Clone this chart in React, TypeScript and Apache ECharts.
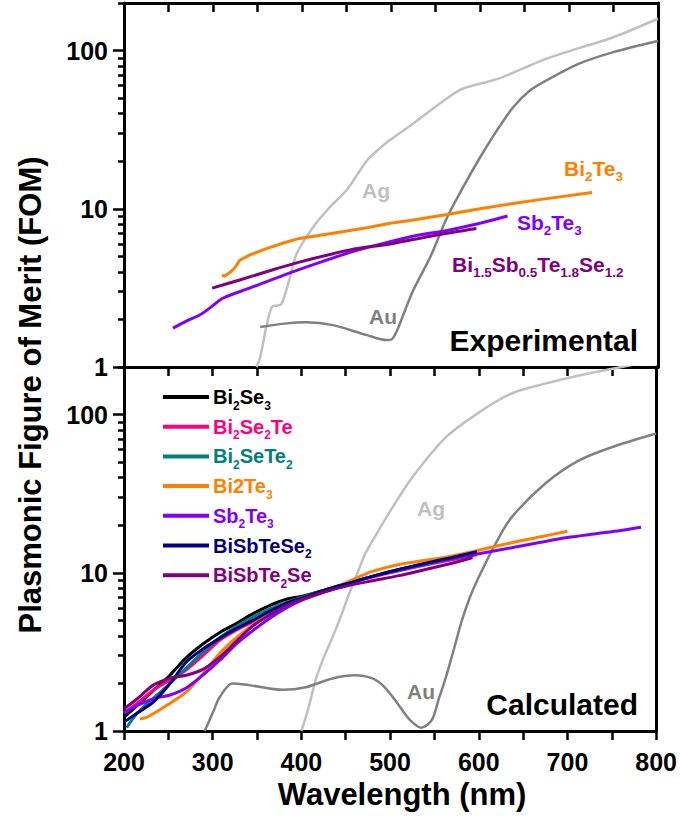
import React, { useEffect, useRef } from "react";
import * as echarts from "echarts";

// ---------- Experimental panel data (wavelength nm, FOM) ----------
const expAgX = [349, 353, 360, 366, 372, 377, 386, 394, 412, 431, 450, 473, 487, 498, 525, 563, 581, 619, 648, 675, 712, 749, 800];
const expAgY = [1.0, 1.15, 1.8, 2.39, 2.45, 2.5, 3.6, 5.2, 7.6, 10.2, 13.1, 20.2, 24, 27, 34.6, 50, 57.6, 66, 77, 89, 104, 121, 159];

const expAuX = [353, 380, 405, 435, 473, 495, 501, 507, 516, 525, 544, 563, 581, 600, 619, 637, 656, 675, 712, 749, 800];
const expAuY = [1.79, 1.88, 1.92, 1.84, 1.59, 1.48, 1.5, 1.71, 2.3, 3.06, 4.94, 8.8, 13.7, 21.1, 31.3, 43.7, 56, 65, 83, 97.5, 115];

const expBi2Te3X = [310, 313, 320, 325, 330, 341, 360, 380, 397, 435, 473, 499, 525, 563, 600, 637, 675, 726];
const expBi2Te3Y = [3.8, 3.75, 4.0, 4.27, 4.73, 5.1, 5.6, 6.1, 6.5, 7.0, 7.6, 8.1, 8.5, 9.2, 10.0, 10.8, 11.6, 12.7];

const expSb2Te3X = [255, 270, 285, 298, 311, 341, 379, 416, 454, 499, 530, 563, 600, 631];
const expSb2Te3Y = [1.76, 1.95, 2.13, 2.4, 2.72, 3.15, 3.8, 4.5, 5.3, 6.2, 6.8, 7.3, 8.1, 9.0];

const expBSTSX = [299, 330, 360, 397, 454, 499, 550, 596];
const expBSTSY = [3.15, 3.55, 4.0, 4.6, 5.5, 6.0, 6.8, 7.5];

// ---------- Calculated panel data ----------
const calcAgX = [400, 408, 416, 425, 435, 445, 454, 463, 472, 487, 498, 525, 563, 600, 637, 675, 712, 761, 790];
const calcAgY = [1.0, 1.4, 2.1, 2.9, 3.9, 5.4, 7.4, 9.9, 13.2, 18.5, 23.5, 40, 72, 103, 136, 157, 176, 200, 215];

const calcAuX = [291, 300, 308, 322, 341, 379, 405, 435, 461, 475, 487, 498, 510, 522, 535, 547, 555, 563, 572, 581, 590, 600, 619, 637, 675, 712, 749, 800];
const calcAuY = [1.0, 1.3, 1.64, 2.0, 1.95, 1.82, 1.89, 2.15, 2.25, 2.2, 2.05, 1.78, 1.45, 1.18, 1.05, 1.17, 1.6, 2.19, 3.3, 5.0, 7.0, 9.4, 15.3, 22.4, 36.7, 51, 62, 76];

const bundleX = [200, 215, 233, 252, 270, 289, 308, 327, 345, 364, 383, 400, 427, 453, 480, 510, 540, 570, 598];
const calcBi2Se3Y = [1.22, 1.45, 1.8, 2.26, 2.9, 3.55, 4.2, 4.8, 5.5, 6.2, 6.8, 7.1, 7.8, 8.6, 9.5, 10.5, 11.4, 12.4, 13.4];
const calcBi2Se2TeY = [1.3, 1.5, 1.81, 2.1, 2.43, 3.0, 3.75, 4.35, 4.9, 5.6, 6.3, 6.9, 7.8, 8.6, 9.4, 10.3, 11.2, 12.1, 13.0];
const calcBi2SeTe2X = [203, 215, 233, 252, 270, 289, 308, 327, 345, 364, 383, 400, 427, 453, 480, 510, 540, 570, 590];
const calcBi2SeTe2Y = [1.05, 1.3, 1.61, 2.0, 2.5, 3.15, 3.9, 4.6, 5.25, 5.9, 6.5, 7.0, 7.8, 8.6, 9.5, 10.4, 11.3, 12.3, 13.2];
const calcBiSbTeSe2Y = [1.14, 1.3, 1.52, 2.0, 2.72, 3.3, 3.86, 4.45, 5.0, 5.7, 6.4, 6.9, 7.8, 8.6, 9.5, 10.5, 11.5, 12.5, 13.6];
const calcBiSbTe2SeX = [200, 215, 233, 252, 270, 289, 308, 327, 345, 364, 383, 400, 427, 453, 480, 510, 540, 570, 593];
const calcBiSbTe2SeY = [1.38, 1.6, 1.95, 2.16, 2.25, 2.45, 2.93, 3.7, 4.6, 5.4, 6.2, 6.8, 7.6, 8.3, 8.9, 9.6, 10.5, 11.5, 12.5];
const calcBi2Te3X = [218, 227, 252, 270, 289, 308, 327, 345, 364, 383, 400, 427, 453, 480, 510, 540, 570, 600, 637, 670, 700];
const calcBi2Te3Y = [1.19, 1.23, 1.5, 1.76, 2.3, 3.1, 3.9, 4.67, 5.5, 6.1, 6.7, 7.6, 8.8, 10.2, 11.3, 12.0, 12.8, 13.9, 15.5, 16.9, 18.3];
const calcSb2Te3X = [200, 215, 233, 252, 270, 289, 308, 327, 345, 364, 383, 400, 427, 453, 480, 510, 540, 570, 600, 637, 670, 700, 734, 760, 783];
const calcSb2Te3Y = [1.3, 1.45, 1.6, 1.69, 1.87, 2.26, 2.8, 3.57, 4.3, 5.15, 6.0, 6.7, 7.6, 8.5, 9.5, 10.4, 11.4, 12.3, 13.2, 14.4, 15.6, 16.7, 17.7, 18.5, 19.4];

// axis ticks
const majorTicks = [1, 10, 100];
const minorTicks = [2, 3, 4, 5, 6, 7, 8, 9, 20, 30, 40, 50, 60, 70, 80, 90, 200];

const C = {
  ag: "#c0c0c0",
  au: "#808080",
  bi2te3: "#ff8000",
  sb2te3: "#8000ff",
  bsts: "#800080",
  bi2se3: "#000000",
  bi2se2te: "#ff0080",
  bi2sete2: "#008080",
  bisbtese2: "#000080",
  bisbte2se: "#800080",
};

const SANS = '"Liberation Sans", Arial, sans-serif';

const zip = (xs: number[], ys: number[]) => xs.map((x, i) => [x, ys[i]]);

function lineSeries(name: string, xs: number[], ys: number[], color: string, grid: number, width = 3, smooth: number | boolean = 0.3) {
  return {
    name,
    type: "line",
    xAxisIndex: grid === 0 ? 0 : 2,
    yAxisIndex: grid === 0 ? 0 : 3,
    data: zip(xs, ys),
    showSymbol: false,
    smooth,
    lineStyle: { color, width },
    itemStyle: { color },
    z: 3,
    clip: true,
  };
}

function richLabel(parts: string, color: string, size = 20, sub = 12) {
  return {
    text: parts,
    rich: {
      m: { fontSize: size, fontWeight: "bold", fontFamily: SANS, fill: color, lineHeight: 24 },
      s: { fontSize: sub, fontWeight: "bold", fontFamily: SANS, fill: color, lineHeight: 14, padding: [17, 0, 0, 0] },
    },
  };
}

const legendItems = [
  { text: "{m|Bi}{s|2}{m|Se}{s|3}", color: C.bi2se3 },
  { text: "{m|Bi}{s|2}{m|Se}{s|2}{m|Te}", color: C.bi2se2te },
  { text: "{m|Bi}{s|2}{m|SeTe}{s|2}", color: C.bi2sete2 },
  { text: "{m|Bi2Te}{s|3}", color: C.bi2te3 },
  { text: "{m|Sb}{s|2}{m|Te}{s|3}", color: C.sb2te3 },
  { text: "{m|BiSbTeSe}{s|2}", color: C.bisbtese2 },
  { text: "{m|BiSbTe}{s|2}{m|Se}", color: C.bisbte2se },
];

export default function App() {
  const ref = useRef<HTMLDivElement>(null);
  useEffect(() => {
    if (!ref.current) return;
    const chart = echarts.init(ref.current, undefined, { renderer: "svg" });
    const axisLine = { show: true, onZero: false, lineStyle: { color: "#000", width: 3 } };
    const tickStyle = { color: "#000", width: 2.5 };
    const xBase = { type: "value", min: 200, max: 800, interval: 50, splitLine: { show: false } };
    const yBase = { type: "log", logBase: 10, min: 1, max: 200, splitLine: { show: false } };

    const yAxesFor = (g: number) => [
      {
        ...yBase,
        gridIndex: g,
        position: "left",
        axisLine,
        axisTick: { show: true, inside: false, length: 11, lineStyle: tickStyle, customValues: majorTicks },
        axisLabel: {
          show: true,
          customValues: majorTicks,
          margin: 16,
          fontSize: 25,
          fontWeight: "bold",
          fontFamily: SANS,
          color: "#000",
        },
      },
      {
        ...yBase,
        gridIndex: g,
        position: "left",
        axisLine: { show: false },
        axisTick: { show: true, inside: false, length: 6, lineStyle: tickStyle, customValues: minorTicks },
        axisLabel: { show: false },
      },
      {
        ...yBase,
        gridIndex: g,
        position: "right",
        axisLine,
        axisTick: { show: false },
        axisLabel: { show: false },
      },
    ];

    const legendGraphics: any[] = [];
    legendItems.forEach((it, i) => {
      const y = 397 + i * 29.7;
      legendGraphics.push({
        type: "line",
        shape: { x1: 163, y1: y, x2: 209, y2: y },
        style: { stroke: it.color, lineWidth: 4 },
        z: 10,
      });
      legendGraphics.push({
        type: "text",
        x: 213,
        y,
        style: { ...richLabel(it.text, it.color, 20, 12), align: "left", verticalAlign: "middle" },
        z: 10,
      });
    });

    const annot = (text: string, color: string, x: number, y: number, align = "left", size = 21, sub = 13.5) => ({
      type: "text",
      x,
      y,
      style: { ...richLabel(text, color, size, sub), align, verticalAlign: "middle" },
      z: 10,
    });

    chart.setOption({
      animation: false,
      backgroundColor: "#fff",
      grid: [
        { left: 124, right: 22, top: 3, height: 364 },
        { left: 124, right: 22, top: 367, height: 364 },
      ],
      xAxis: [
        { ...xBase, gridIndex: 0, position: "bottom", axisLine, axisTick: { show: false }, axisLabel: { show: false } },
        { ...xBase, gridIndex: 0, position: "top", axisLine, axisTick: { show: true, inside: true, length: 9, lineStyle: tickStyle }, axisLabel: { show: false } },
        {
          ...xBase,
          gridIndex: 1,
          position: "bottom",
          axisLine,
          axisTick: { show: true, inside: false, length: 9, lineStyle: tickStyle },
          axisLabel: {
            show: true,
            interval: 0,
            formatter: (v: number) => (v % 100 === 0 ? String(v) : ""),
            margin: 18,
            fontSize: 25,
            fontWeight: "bold",
            fontFamily: SANS,
            color: "#000",
          },
          name: "Wavelength (nm)",
          nameLocation: "middle",
          nameGap: 48,
          nameTextStyle: { fontSize: 31, fontWeight: "bold", fontFamily: SANS, color: "#000", verticalAlign: "top", padding: [0, 0, 0, 24] },
        },
        { ...xBase, gridIndex: 1, position: "top", axisLine, axisTick: { show: true, inside: true, length: 9, lineStyle: tickStyle }, axisLabel: { show: false } },
      ],
      yAxis: [...yAxesFor(0), ...yAxesFor(1)],
      series: [
        lineSeries("Ag (experimental)", expAgX, expAgY, C.ag, 0, 2.5),
        lineSeries("Au (experimental)", expAuX, expAuY, C.au, 0, 2.5),
        lineSeries("Bi2Te3 (experimental)", expBi2Te3X, expBi2Te3Y, C.bi2te3, 0, 3, false),
        lineSeries("Sb2Te3 (experimental)", expSb2Te3X, expSb2Te3Y, C.sb2te3, 0, 3),
        lineSeries("Bi1.5Sb0.5Te1.8Se1.2 (experimental)", expBSTSX, expBSTSY, C.bsts, 0, 3),
        lineSeries("Ag (calculated)", calcAgX, calcAgY, C.ag, 1, 2.5),
        lineSeries("Au (calculated)", calcAuX, calcAuY, C.au, 1, 2.5),
        lineSeries("Bi2Se3", bundleX, calcBi2Se3Y, C.bi2se3, 1),
        lineSeries("Bi2Se2Te", bundleX, calcBi2Se2TeY, C.bi2se2te, 1),
        lineSeries("Bi2SeTe2", calcBi2SeTe2X, calcBi2SeTe2Y, C.bi2sete2, 1),
        lineSeries("Bi2Te3", calcBi2Te3X, calcBi2Te3Y, C.bi2te3, 1),
        lineSeries("Sb2Te3", calcSb2Te3X, calcSb2Te3Y, C.sb2te3, 1),
        lineSeries("BiSbTeSe2", bundleX, calcBiSbTeSe2Y, C.bisbtese2, 1),
        lineSeries("BiSbTe2Se", calcBiSbTe2SeX, calcBiSbTe2SeY, C.bisbte2se, 1),
      ],
      graphic: [
        {
          type: "text",
          x: 30,
          y: 395,
          rotation: Math.PI / 2,
          style: {
            text: "Plasmonic Figure of Merit (FOM)",
            fontSize: 31,
            fontWeight: "bold",
            fontFamily: SANS,
            fill: "#000",
            align: "center",
            verticalAlign: "middle",
          },
          z: 10,
        },
        annot("{m|Ag}", C.ag, 376, 190, "center"),
        annot("{m|Au}", C.au, 383, 316, "center"),
        annot("{m|Bi}{s|2}{m|Te}{s|3}", C.bi2te3, 564, 168),
        annot("{m|Sb}{s|2}{m|Te}{s|3}", C.sb2te3, 517, 222),
        annot("{m|Bi}{s|1.5}{m|Sb}{s|0.5}{m|Te}{s|1.8}{m|Se}{s|1.2}", C.bsts, 452, 264),
        annot("{m|Ag}", C.ag, 431, 508, "center"),
        annot("{m|Au}", C.au, 421, 691, "center"),
        {
          type: "text",
          x: 638,
          y: 340,
          style: { text: "Experimental", fontSize: 30, fontWeight: "bold", fontFamily: SANS, fill: "#000", align: "right", verticalAlign: "middle" },
          z: 10,
        },
        {
          type: "text",
          x: 638,
          y: 704,
          style: { text: "Calculated", fontSize: 30, fontWeight: "bold", fontFamily: SANS, fill: "#000", align: "right", verticalAlign: "middle" },
          z: 10,
        },
        ...legendGraphics,
      ],
    });
    return () => chart.dispose();
  }, []);
  return <div ref={ref} style={{ width: 680, height: 816, position: "absolute", left: 0, top: 0 }} />;
}
